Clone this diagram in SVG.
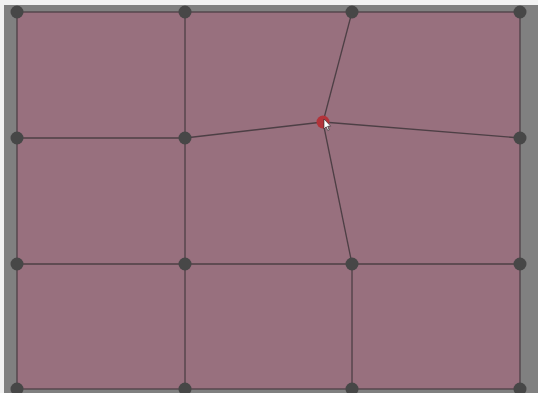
<svg xmlns="http://www.w3.org/2000/svg" width="538" height="393" viewBox="0 0 538 393">
<style>
.e{stroke:#4d3f45;stroke-width:1.3;fill:none}
.n{fill:#474747}
.sel{fill:#b3333a}
</style>
<rect x="0" y="0" width="538" height="393" fill="#f2f2f2"/>
<rect x="4" y="5" width="534" height="388" fill="#808080"/>
<rect x="17" y="12" width="503" height="377" fill="#98707e"/>
<g id="connectors">
<rect class="e" x="17" y="12" width="503" height="377" stroke="#6e4a55" stroke-width="1.5"/>
<line class="e" x1="185" y1="12" x2="185" y2="389"/>
<line class="e" x1="17" y1="138" x2="185" y2="138"/>
<line class="e" x1="17" y1="264" x2="520" y2="264"/>
<line class="e" x1="352" y1="264" x2="352" y2="389"/>
<line class="e" x1="323" y1="122" x2="352" y2="12"/>
<line class="e" x1="323" y1="122" x2="185" y2="138"/>
<line class="e" x1="323" y1="122" x2="520" y2="138"/>
<line class="e" x1="323" y1="122" x2="352" y2="264"/>
</g>
<g id="n00"><circle class="n" cx="17" cy="12" r="6.5"/></g>
<g id="n10"><circle class="n" cx="185" cy="12" r="6.5"/></g>
<g id="n20"><circle class="n" cx="352" cy="12" r="6.5"/></g>
<g id="n30"><circle class="n" cx="520" cy="12" r="6.5"/></g>
<g id="n01"><circle class="n" cx="17" cy="138" r="6.5"/></g>
<g id="n11"><circle class="n" cx="185" cy="138" r="6.5"/></g>
<g id="n21"><circle class="sel" cx="323" cy="122" r="6.5"/></g>
<g id="n31"><circle class="n" cx="520" cy="138" r="6.5"/></g>
<g id="n02"><circle class="n" cx="17" cy="264" r="6.5"/></g>
<g id="n12"><circle class="n" cx="185" cy="264" r="6.5"/></g>
<g id="n22"><circle class="n" cx="352" cy="264" r="6.5"/></g>
<g id="n32"><circle class="n" cx="520" cy="264" r="6.5"/></g>
<g id="n03"><circle class="n" cx="17" cy="389" r="6.5"/></g>
<g id="n13"><circle class="n" cx="185" cy="389" r="6.5"/></g>
<g id="n23"><circle class="n" cx="352" cy="389" r="6.5"/></g>
<g id="n33"><circle class="n" cx="520" cy="389" r="6.5"/></g>
<path d="M324 119 L324 129 L326.2 126.8 L327.8 130.5 L329.2 129.9 L327.6 126.3 L330.6 126.1 Z" fill="#ffffff" stroke="#222" stroke-width="0.6"/>
</svg>
